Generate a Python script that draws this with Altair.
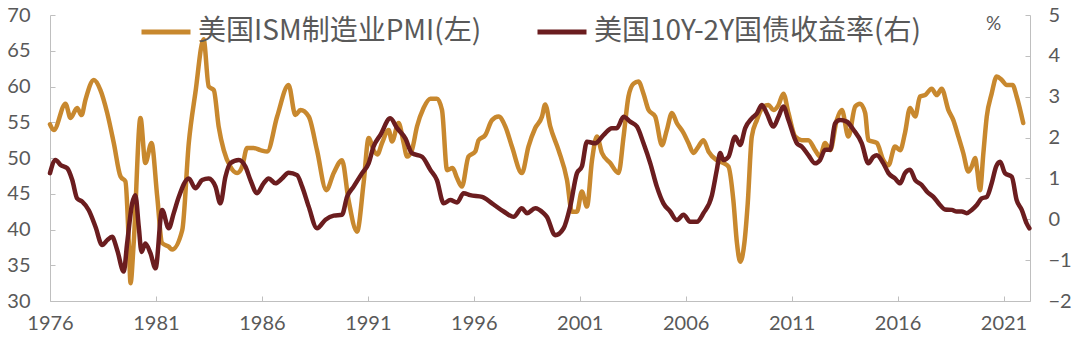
import altair as alt
import pandas as pd

PMI_NAME = "美国ISM制造业PMI(左)"
SPREAD_NAME = "美国10Y-2Y国债收益率(右)"

pmi_years = [1976.00, 1976.18, 1976.73, 1976.97, 1977.28, 1977.49, 1977.67, 1978.07, 1978.38, 1978.70,
             1979.01, 1979.33, 1979.56, 1979.72, 1979.80, 1979.95, 1980.27, 1980.50, 1980.79, 1981.06,
             1981.29, 1981.60, 1981.76, 1982.24, 1982.55, 1982.86, 1983.25, 1983.49, 1983.73, 1983.96,
             1984.20, 1984.51, 1984.83, 1985.07, 1985.30, 1985.61, 1985.93, 1986.25, 1986.72, 1987.26,
             1987.58, 1987.82, 1988.21, 1988.60, 1989.04, 1989.39, 1989.78, 1990.09, 1990.49, 1990.80,
             1991.04, 1991.27, 1991.45, 1991.67, 1991.98, 1992.14, 1992.45, 1992.69, 1992.85, 1993.08,
             1993.32, 1993.63, 1993.95, 1994.26, 1994.50, 1994.74, 1995.00, 1995.21, 1995.44, 1995.75,
             1996.07, 1996.23, 1996.54, 1996.86, 1997.17, 1997.49, 1997.80, 1998.27, 1998.58, 1998.90,
             1999.22, 1999.37, 1999.61, 2000.00, 2000.40, 2000.63, 2000.87, 2001.10, 2001.34, 2001.58,
             2001.81, 2002.05, 2002.44, 2002.83, 2003.07, 2003.30, 2003.54, 2003.77, 2004.01, 2004.25,
             2004.56, 2004.88, 2005.11, 2005.35, 2005.58, 2005.90, 2006.13, 2006.37, 2006.60, 2006.84,
             2007.08, 2007.47, 2007.78, 2008.02, 2008.25, 2008.42, 2008.57, 2008.77, 2008.93, 2009.12,
             2009.36, 2009.67, 2009.91, 2010.14, 2010.38, 2010.61, 2010.85, 2011.17, 2011.48, 2011.79,
             2012.11, 2012.34, 2012.58, 2012.82, 2013.13, 2013.37, 2013.68, 2014.00, 2014.23, 2014.47,
             2014.62, 2015.02, 2015.33, 2015.57, 2015.88, 2016.12, 2016.35, 2016.59, 2016.83, 2017.06,
             2017.30, 2017.61, 2017.85, 2018.08, 2018.40, 2018.63, 2018.87, 2019.10, 2019.34, 2019.50,
             2019.66, 2019.76, 2019.89, 2020.05, 2020.21, 2020.44, 2020.68, 2020.92, 2021.15, 2021.43,
             2021.62, 2021.93]
pmi_values = [54.7, 53.9, 57.6, 55.6, 57.0, 56.0, 58.1, 60.9, 59.5, 56.3,
              52.1, 47.4, 46.7, 38.1, 32.5, 38.1, 55.6, 49.3, 52.1, 44.6,
              38.1, 37.6, 37.2, 39.9, 52.1, 59.1, 66.6, 60.0, 59.5, 54.4,
              51.1, 48.8, 47.9, 48.8, 51.4, 51.4, 51.1, 50.9, 55.8, 60.2,
              56.0, 56.7, 55.8, 51.1, 45.5, 47.9, 49.7, 44.1, 39.7, 46.5,
              52.8, 51.1, 50.5, 52.1, 53.9, 52.3, 54.9, 52.1, 50.2, 51.1,
              54.4, 57.0, 58.3, 58.3, 56.7, 48.3, 48.6, 47.2, 46.0, 50.2,
              50.9, 52.5, 53.2, 55.3, 55.8, 54.4, 51.6, 47.9, 51.6, 54.2,
              55.8, 57.5, 54.4, 51.1, 46.9, 42.5, 42.5, 45.3, 43.2, 49.7,
              53.0, 50.7, 49.3, 47.9, 53.0, 58.6, 60.4, 60.7, 59.0, 56.7,
              55.8, 51.8, 53.9, 56.3, 54.9, 53.5, 52.1, 50.7, 51.6, 52.5,
              50.9, 49.7, 49.3, 48.8, 44.1, 38.1, 35.5, 38.1, 43.7, 53.0,
              55.3, 57.2, 57.4, 56.7, 57.4, 59.0, 56.3, 53.0, 52.5, 52.5,
              51.1, 50.2, 52.1, 51.1, 55.3, 56.7, 53.0, 57.2, 57.6, 56.3,
              52.5, 52.1, 49.7, 49.0, 51.6, 51.1, 53.5, 57.0, 55.8, 58.6,
              58.8, 59.7, 58.8, 59.7, 56.7, 55.3, 53.0, 50.7, 48.1, 48.8,
              50.0, 48.3, 45.5, 50.7, 55.8, 59.0, 61.4, 60.9, 60.2, 60.2,
              58.6, 54.9]

spread_years = [1976.00, 1976.26, 1976.50, 1976.81, 1977.05, 1977.28, 1977.52, 1977.83, 1978.15, 1978.46,
                1978.70, 1978.93, 1979.17, 1979.48, 1979.64, 1979.88, 1980.03, 1980.19, 1980.32, 1980.50,
                1980.74, 1980.98, 1981.29, 1981.60, 1981.84, 1982.08, 1982.55, 1982.86, 1983.18, 1983.49,
                1983.81, 1984.04, 1984.28, 1984.51, 1984.91, 1985.22, 1985.46, 1985.77, 1986.08, 1986.32,
                1986.64, 1986.95, 1987.26, 1987.66, 1987.90, 1988.21, 1988.60, 1989.00, 1989.39, 1989.78,
                1990.02, 1990.33, 1990.73, 1991.04, 1991.27, 1991.59, 1992.06, 1992.38, 1992.77, 1993.08,
                1993.56, 1993.95, 1994.26, 1994.58, 1994.89, 1995.21, 1995.52, 1995.83, 1996.39, 1996.86,
                1997.41, 1997.88, 1998.27, 1998.51, 1998.90, 1999.29, 1999.45, 1999.84, 2000.24, 2000.55,
                2000.87, 2001.10, 2001.34, 2001.73, 2002.12, 2002.52, 2002.75, 2003.07, 2003.38, 2003.70,
                2004.01, 2004.33, 2004.64, 2004.95, 2005.27, 2005.58, 2005.90, 2006.21, 2006.53, 2006.84,
                2007.24, 2007.47, 2007.63, 2007.78, 2008.02, 2008.33, 2008.57, 2008.81, 2009.12, 2009.36,
                2009.59, 2009.83, 2010.14, 2010.38, 2010.61, 2010.85, 2011.25, 2011.48, 2011.79, 2012.11,
                2012.34, 2012.58, 2012.82, 2013.05, 2013.29, 2013.60, 2013.92, 2014.31, 2014.62, 2014.86,
                2015.02, 2015.33, 2015.57, 2015.88, 2016.12, 2016.35, 2016.59, 2016.83, 2017.14, 2017.38,
                2017.69, 2018.00, 2018.24, 2018.56, 2018.79, 2019.03, 2019.26, 2019.50, 2019.74, 2019.97,
                2020.21, 2020.44, 2020.65, 2020.84, 2021.07, 2021.39, 2021.62, 2021.86, 2022.09, 2022.22]
spread_values = [1.13, 1.45, 1.33, 1.25, 0.96, 0.51, 0.43, 0.22, -0.19, -0.63,
                 -0.51, -0.43, -0.75, -1.28, -0.59, 0.39, 0.59, -0.19, -0.80, -0.59,
                 -0.83, -1.20, 0.23, -0.22, 0.15, 0.55, 1.00, 0.76, 0.96, 1.00,
                 0.80, 0.39, 1.04, 1.37, 1.45, 1.29, 0.96, 0.64, 0.88, 1.00,
                 0.88, 1.00, 1.14, 1.08, 0.80, 0.31, -0.22, -0.01, 0.09, 0.11,
                 0.55, 0.80, 1.13, 1.37, 1.78, 2.06, 2.47, 2.23, 1.98, 1.62,
                 1.53, 1.21, 0.96, 0.39, 0.47, 0.41, 0.64, 0.59, 0.55, 0.39,
                 0.19, 0.06, 0.27, 0.15, 0.27, 0.15, 0.06, -0.39, -0.22, 0.31,
                 1.13, 1.29, 1.90, 1.86, 2.06, 2.23, 2.23, 2.51, 2.39, 2.27,
                 1.86, 1.37, 0.80, 0.39, 0.19, -0.02, 0.11, -0.06, -0.06, 0.15,
                 0.59, 1.21, 1.62, 1.45, 1.53, 2.02, 1.82, 2.23, 2.47, 2.59,
                 2.80, 2.59, 2.27, 2.51, 2.76, 2.43, 1.86, 1.78, 1.57, 1.37,
                 1.45, 1.70, 1.70, 2.35, 2.43, 2.39, 2.19, 1.86, 1.37, 1.53,
                 1.57, 1.37, 1.13, 1.00, 0.88, 1.13, 1.21, 0.96, 0.84, 0.68,
                 0.55, 0.35, 0.24, 0.23, 0.19, 0.19, 0.15, 0.23, 0.35, 0.51,
                 0.55, 0.88, 1.29, 1.41, 1.13, 1.04, 0.47, 0.23, -0.10, -0.22]

x_ticks = [1976, 1981, 1986, 1991, 1996, 2001, 2006, 2011, 2016, 2021]
left_ticks = [30, 35, 40, 45, 50, 55, 60, 65, 70]
right_ticks = [-2, -1, 0, 1, 2, 3, 4, 5]

ORANGE = "#C8882E"
MAROON = "#6B1D1F"
AXIS_GRAY = "#BFBFBF"
LABEL_GRAY = "#595959"
NUM_FONT = "Lato"
CJK_FONT = "Noto Sans CJK SC"

pmi_df = pd.DataFrame({"year": pmi_years, "value": pmi_values, "series": PMI_NAME})
spread_df = pd.DataFrame({"year": spread_years, "value": spread_values, "series": SPREAD_NAME})

inward = alt.ExprRef(expr="-5")

x_enc = alt.X(
    "year:Q",
    scale=alt.Scale(domain=[1976, 2022.25], nice=False, zero=False),
    axis=alt.Axis(values=x_ticks, format="d", title=None, grid=False,
                  domainColor=AXIS_GRAY, tickColor=AXIS_GRAY, tickSize=inward,
                  labelPadding=17, labelFont=NUM_FONT, labelFontSize=20,
                  labelColor=LABEL_GRAY, labelFlush=False),
)

color_enc = alt.Color(
    "series:N",
    scale=alt.Scale(domain=[PMI_NAME, SPREAD_NAME], range=[ORANGE, MAROON]),
    legend=alt.Legend(
        title=None, orient="none", legendX=89, legendY=-10, direction="horizontal",
        symbolType="stroke", symbolSize=2401, symbolStrokeWidth=5,
        labelFont=CJK_FONT, labelFontSize=28, labelColor=LABEL_GRAY,
        labelLimit=1000, labelOffset=5, columnPadding=45, padding=0,
    ),
)

line_style = dict(strokeWidth=4.5, interpolate="monotone", strokeCap="round", strokeJoin="round")

pmi_line = alt.Chart(pmi_df).mark_line(**line_style).encode(
    x=x_enc,
    y=alt.Y("value:Q",
            scale=alt.Scale(domain=[30, 70], nice=False, zero=False),
            axis=alt.Axis(orient="left", values=left_ticks, title=None, grid=False,
                          domainColor=AXIS_GRAY, tickColor=AXIS_GRAY, tickSize=inward,
                          labelPadding=25, labelFont=NUM_FONT, labelFontSize=20,
                          labelColor=LABEL_GRAY)),
    color=color_enc,
)

spread_line = alt.Chart(spread_df).mark_line(**line_style).encode(
    x=x_enc,
    y=alt.Y("value:Q",
            scale=alt.Scale(domain=[-2, 5], nice=False, zero=False),
            axis=alt.Axis(orient="right", values=right_ticks, grid=False,
                          domainColor=AXIS_GRAY, tickColor=AXIS_GRAY, tickSize=inward,
                          labelPadding=23, labelFont=NUM_FONT, labelFontSize=20,
                          labelColor=LABEL_GRAY,
                          title="%", titleAngle=0, titleX=-37, titleY=8,
                          titleAlign="center", titleBaseline="middle",
                          titleFont=NUM_FONT, titleFontSize=19, titleFontWeight="normal",
                          titleColor=LABEL_GRAY)),
    color=color_enc,
)

chart = (
    alt.layer(pmi_line, spread_line)
    .resolve_scale(y="independent")
    .properties(
        width=980, height=286,
        padding={"left": 50, "top": 15, "right": 50, "bottom": 45},
        autosize=alt.AutoSizeParams(type="none"),
        background="white",
    )
    .configure_view(stroke=None)
)

chart.save("out.html", embed_options={"renderer": "svg", "actions": False})
